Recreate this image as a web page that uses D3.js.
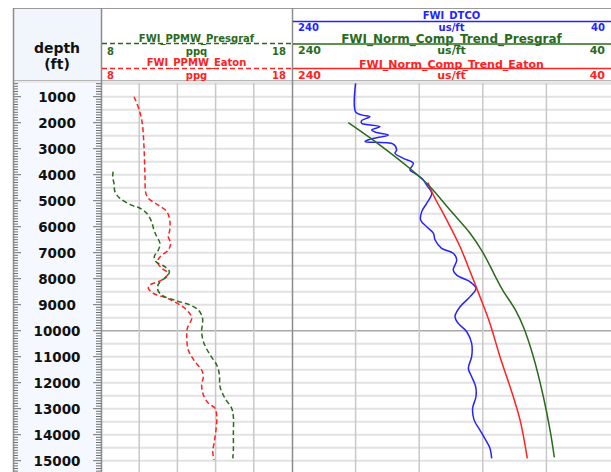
<!DOCTYPE html>
<html><head><meta charset="utf-8">
<script src="https://cdn.jsdelivr.net/npm/d3@7"></script>
<style>html,body{margin:0;padding:0;background:#fff;}svg{display:block;font-family:"DejaVu Sans",Verdana,sans-serif;}</style>
</head><body><svg id="c" width="611" height="472"></svg>
<script>
// ---- data ----
const depthTicks = [1000,2000,3000,4000,5000,6000,7000,8000,9000,10000,11000,12000,13000,14000,15000];
const eatonDepth = [1000,1510,2020,2920,3950,4720,4910,5170,5420,5740,6130,6380,6640,6900,7150,7350,7600,7790,8050,8240,8370,8560,8750,9010,9270,9520,9910,10230,10740,11190,11510,11770,12090,12470,12790,12980,13310,13820,14330,14650,14970];
const eatonPPG   = [9.73,10.0,10.16,10.25,10.3,10.35,10.48,11.0,11.44,11.6,11.6,11.52,11.65,11.52,11.1,10.95,11.18,11.52,11.18,10.57,10.48,10.74,11.44,12.14,12.57,12.75,12.52,12.49,12.57,12.92,13.27,13.36,13.27,13.36,13.62,13.97,14.06,14.02,13.92,13.85,13.92];
const presDepth = [3880,4080,4330,4650,4910,5170,5290,5480,5810,6130,6380,6640,6900,7150,7350,7540,7730,7920,8120,8370,8630,8850,9010,9200,9460,9720,9970,10420,10930,11320,11700,12150,12600,12980,13310,13950,14590,14910];
const presPPG   = [8.64,8.61,8.68,8.73,8.99,9.6,10.04,10.39,10.65,10.77,10.92,11.09,11.0,10.79,10.88,11.35,11.58,11.44,11.09,10.95,11.18,11.96,12.66,13.09,13.3,13.32,13.27,13.36,13.71,14.06,14.2,14.23,14.49,14.84,14.93,14.93,14.93,14.9];
const dtcoDepth = [485,1580,1700,1770,1920,2020,2150,2280,2380,2470,2640,2730,2820,3050,3180,3370,3560,3820,3950,4200,4400,4720,5100,5420,5740,6000,6250,6510,6830,7020,7280,7670,7860,8120,8370,8690,9080,9460,9720,10040,10490,11000,11450,11770,12150,12540,12980,13430,13820,14270,14520,14910];
const dtcoVal   = [200,200,196.2,191,196.2,196.2,184.7,189.9,186.7,179.4,191,194.1,176.3,174.2,175.2,170,163.7,165.8,162.6,157.4,155.3,152.1,155.3,158.4,159.1,155.3,151.1,150,145.9,138.6,136.4,138.6,136.4,128,124.3,128,134.3,137.5,135.4,130.1,127,127,129.1,127,124.5,124.3,126.4,125.5,121.8,117.6,115.5,114.4];
const ncPresDepth = [2000,2860,3820,4460,5360,6250,7020,7830,8430,9200,9850,11000,12540,13820,14870];
const ncPresVal   = [204.6,184.7,164.7,153.2,140.6,128,119.7,112.8,107.6,99.5,94.5,88.2,81.9,77.7,75];
const ncEatonDepth = [4300,4780,5740,6770,7830,8690,9720,11000,12150,13430,14910];
const ncEatonVal   = [154.5,151.1,142.7,134.3,127.3,121.8,115.5,109.2,102.9,96.6,92];
const ppgTicks = [8,18];
const dtTicks = [240,40];

// ---- layout ----
const svg = d3.select("#c");
const L = 13, T1 = 101, T2 = 292, R = 611, TOP = 8, HB = 80, PT = 83, PB = 472;
const y = d3.scaleLinear().domain([473, 15473]).range([PT, 473]);
const x1 = d3.scaleLinear().domain([8, 18]).range([T1, T2]);
const x2 = d3.scaleLinear().domain([240, 40]).range([T2, 610]);
const GREEN = "#2b6a1d", RED = "#ff2222", BLUE = "#2424ff";

// backgrounds
svg.append("rect").attr("x",L).attr("y",TOP).attr("width",T1-L).attr("height",HB-TOP).attr("fill","#f1f6fd");
svg.append("rect").attr("x",L).attr("y",PT).attr("width",T1-L).attr("height",PB-PT).attr("fill","#f5f9ff");
svg.append("rect").attr("x",L).attr("y",HB).attr("width",R-L).attr("height",PT-HB).attr("fill","#e9e9e9");
svg.append("line").attr("x1",L).attr("x2",R).attr("y1",TOP+0.5).attr("y2",TOP+0.5).attr("stroke","#9a9a9a");
svg.append("line").attr("x1",L).attr("x2",R).attr("y1",HB+0.5).attr("y2",HB+0.5).attr("stroke","#b5b5b5");

// horizontal grid in tracks
const grid = d3.range(500, 15501, 500);
const g = svg.append("g");
[[T1,T2],[T2,R]].forEach(([a,b])=>{
  g.selectAll(null).data(grid).enter().append("line")
   .attr("x1",a).attr("x2",b).attr("y1",d=>y(d)).attr("y2",d=>y(d))
   .attr("stroke",d=>d%10000===0?"#a8a8a8":"#e2e2e2").attr("stroke-width",d=>d%10000===0?1.5:2);
});
// vertical grid
g.selectAll(null).data(d3.range(10,18,2)).enter().append("line")
 .attr("x1",d=>x1(d)).attr("x2",d=>x1(d)).attr("y1",PT).attr("y2",PB).attr("stroke","#c8c8c8").attr("stroke-width",1.5);
g.selectAll(null).data(d3.range(200,40,-40)).enter().append("line")
 .attr("x1",d=>x2(d)).attr("x2",d=>x2(d)).attr("y1",PT).attr("y2",PB).attr("stroke","#c8c8c8").attr("stroke-width",1.5);

// track borders
[L, T1, T2].forEach(x=>{
  svg.append("line").attr("x1",x+0.5).attr("x2",x+0.5).attr("y1",TOP).attr("y2",PB).attr("stroke","#8c8c8c").attr("stroke-width",1.5);
});

// depth ticks
const minor = d3.range(500, 15500, 100);
svg.append("g").selectAll(null).data(minor).enter().append("line")
  .attr("x1",L+1).attr("x2",d=>d%1000===0?L+8:L+5).attr("y1",d=>y(d)).attr("y2",d=>y(d)).attr("stroke","#6e6e6e").attr("stroke-width",1);
svg.append("g").selectAll(null).data(minor).enter().append("line")
  .attr("x1",T1).attr("x2",d=>d%1000===0?T1-8:T1-5).attr("y1",d=>y(d)).attr("y2",d=>y(d)).attr("stroke","#6e6e6e").attr("stroke-width",1);
svg.append("g").selectAll(null).data(depthTicks).enter().append("text")
  .attr("x",57).attr("y",d=>y(d)).attr("dy","0.36em").attr("text-anchor","middle")
  .attr("font-size","13.5px").attr("font-weight","bold").attr("fill","#111").text(d=>d);

// header: depth
svg.append("text").attr("x",57).attr("y",48).attr("dy","0.36em").attr("text-anchor","middle").attr("font-size","14px").attr("font-weight","bold").attr("fill","#111").text("depth");
svg.append("text").attr("x",57).attr("y",64).attr("dy","0.36em").attr("text-anchor","middle").attr("font-size","14px").attr("font-weight","bold").attr("fill","#111").text("(ft)");

function hdr(x0, x1_, ty, ly, title, color, fs, ny, nfs, ticks, unit, dash){
  const cx = (x0+x1_)/2;
  svg.append("text").attr("x",cx).attr("y",ty).attr("dy","0.36em").attr("text-anchor","middle").attr("font-size",fs).attr("font-weight","bold").attr("fill",color).text(title);
  svg.append("line").attr("x1",x0+1).attr("x2",x1_).attr("y1",ly).attr("y2",ly).attr("stroke",color).attr("stroke-width",1.5).attr("stroke-dasharray",dash?"5,3":null);
  svg.append("text").attr("x",x0+6).attr("y",ny).attr("dy","0.36em").attr("font-size",nfs).attr("font-weight","bold").attr("fill",color).text(ticks[0]);
  svg.append("text").attr("x",cx).attr("y",ny).attr("dy","0.36em").attr("text-anchor","middle").attr("font-size",nfs).attr("font-weight","bold").attr("fill",color).text(unit);
  svg.append("text").attr("x",x1_-6).attr("y",ny).attr("dy","0.36em").attr("text-anchor","end").attr("font-size",nfs).attr("font-weight","bold").attr("fill",color).text(ticks[1]);
}
hdr(T1, T2, 38.5, 43.5, "FWI_PPMW_Presgraf", GREEN, "10px", 51.5, "10px", ppgTicks, "ppq", true);
hdr(T1, T2, 62.5, 68.5, "FWI_PPMW_Eaton", RED, "10px", 75, "10px", ppgTicks, "ppg", true);
hdr(T2, R, 15.5, 21.5, "FWI_DTCO", BLUE, "10px", 27.5, "10px", dtTicks, "us/ft", false);
hdr(T2, R, 38.5, 44, "FWI_Norm_Comp_Trend_Presgraf", GREEN, "12px", 50.5, "11px", dtTicks, "us/ft", false);
hdr(T2, R, 64, 68.5, "FWI_Norm_Comp_Trend_Eaton", RED, "11px", 75.5, "11px", dtTicks, "us/ft", false);

// curves
svg.append("clipPath").attr("id","cp").append("rect").attr("x",T1).attr("y",PT).attr("width",R-T1).attr("height",PB-PT);
const plot = svg.append("g").attr("clip-path","url(#cp)");
function curve(ds, vs, xs, color, dash, w){
  const pts = ds.map((d,i)=>[xs(vs[i]), y(d)]);
  plot.append("path").attr("d", d3.line().curve(d3.curveCatmullRom.alpha(0.5))(pts))
    .attr("fill","none").attr("stroke",color).attr("stroke-width",w).attr("stroke-dasharray",dash?"5,3":null);
}
curve(eatonDepth, eatonPPG, x1, RED, true, 1.5);
curve(presDepth, presPPG, x1, GREEN, true, 1.5);
curve(dtcoDepth, dtcoVal, x2, BLUE, false, 1.5);
curve(ncEatonDepth, ncEatonVal, x2, RED, false, 1.5);
curve(ncPresDepth, ncPresVal, x2, GREEN, false, 1.5);
</script></body></html>
